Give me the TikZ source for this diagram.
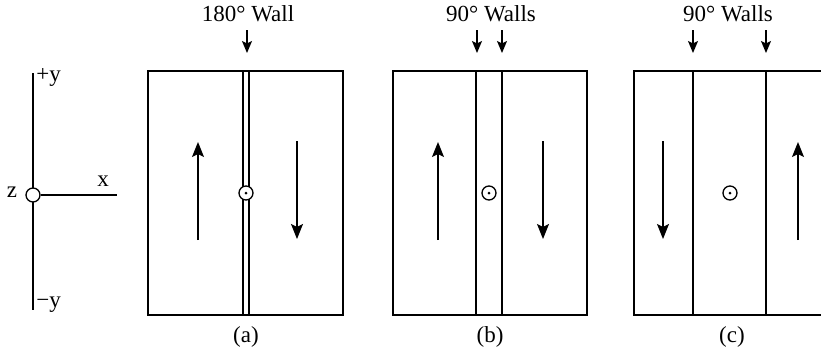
\documentclass[tikz,border=0pt]{standalone}
\usepackage{fontspec}
\setmainfont{Liberation Serif}
\usetikzlibrary{arrows.meta}

\tikzset{
  dom/.style={line width=0.65pt},
  mag/.style={line width=0.65pt, -{Stealth[length=7.5pt,width=6pt,inset=1.5pt]}},
  wallmark/.style={line width=0.65pt, -{Stealth[length=6pt,width=5pt,inset=1.2pt]}},
  ring/.style={circle, draw, fill=white, line width=0.65pt, minimum size=7pt, inner sep=0pt},
  outdot/.style={ring, path picture={\fill[black] (path picture bounding box.center) circle (0.75pt);}},
  lbl/.style={font=\fontsize{11.5}{13}\selectfont, inner sep=0pt}
}

\begin{document}
\begin{tikzpicture}[x=0.5pt, y=-0.5pt]
  \useasboundingbox (0,0) rectangle (821,355);

  % axes
  \coordinate (ytop) at (33,73);
  \coordinate (ybot) at (33,310);
  \coordinate (xend) at (117,195);
  \draw[dom] (ytop) -- (ybot);
  \node[ring] (zax) at (33,195) {};
  \draw[dom] (zax.east) -- (xend);
  \node[lbl, anchor=west] (lyp) at (36,77) {+y};
  \node[lbl, anchor=west] (lym) at (36,305) {−y};
  \node[lbl] (lx) at (103,181) {x};
  \node[lbl] (lz) at (12,192) {z};

  % (a) one 180 degree wall
  \draw[dom] (148,71) rectangle (343,315);
  \draw[dom] (243,71) -- (243,315);
  \draw[dom] (249,71) -- (249,315);
  \coordinate (a1s) at (198,240); \coordinate (a1e) at (198,142);
  \coordinate (a2s) at (297,141); \coordinate (a2e) at (297,239);
  \draw[mag] (a1s) -- (a1e);
  \draw[mag] (a2s) -- (a2e);
  \node[outdot] (adot) at (246,193) {};
  \node[lbl] (atop) at (248,14) {180° Wall};
  \coordinate (aw1) at (247,30); \coordinate (aw1e) at (247,53);
  \draw[wallmark] (aw1) -- (aw1e);
  \node[lbl] (acap) at (246,337) {(a)};

  % (b) two close 90 degree walls
  \draw[dom] (393,71) rectangle (587,315);
  \draw[dom] (476,71) -- (476,315);
  \draw[dom] (502,71) -- (502,315);
  \coordinate (b1s) at (438,240); \coordinate (b1e) at (438,142);
  \coordinate (b2s) at (543,141); \coordinate (b2e) at (543,239);
  \draw[mag] (b1s) -- (b1e);
  \draw[mag] (b2s) -- (b2e);
  \node[outdot] (bdot) at (489,193) {};
  \node[lbl] (btop) at (491,14) {90° Walls};
  \coordinate (bw1) at (477,30); \coordinate (bw1e) at (477,53);
  \coordinate (bw2) at (502,30); \coordinate (bw2e) at (502,53);
  \draw[wallmark] (bw1) -- (bw1e);
  \draw[wallmark] (bw2) -- (bw2e);
  \node[lbl] (bcap) at (490,337) {(b)};

  % (c) wide 90 degree domain
  \draw[dom] (821,71) -- (634,71) -- (634,315) -- (821,315);
  \draw[dom] (693,71) -- (693,315);
  \draw[dom] (766,71) -- (766,315);
  \coordinate (c1s) at (663,141); \coordinate (c1e) at (663,239);
  \coordinate (c2s) at (798,240); \coordinate (c2e) at (798,142);
  \draw[mag] (c1s) -- (c1e);
  \draw[mag] (c2s) -- (c2e);
  \node[outdot] (cdot) at (730,193) {};
  \node[lbl] (ctop) at (728,14) {90° Walls};
  \coordinate (cw1) at (693,30); \coordinate (cw1e) at (693,53);
  \coordinate (cw2) at (766,30); \coordinate (cw2e) at (766,53);
  \draw[wallmark] (cw1) -- (cw1e);
  \draw[wallmark] (cw2) -- (cw2e);
  \node[lbl] (ccap) at (732,337) {(c)};
\end{tikzpicture}
\end{document}
